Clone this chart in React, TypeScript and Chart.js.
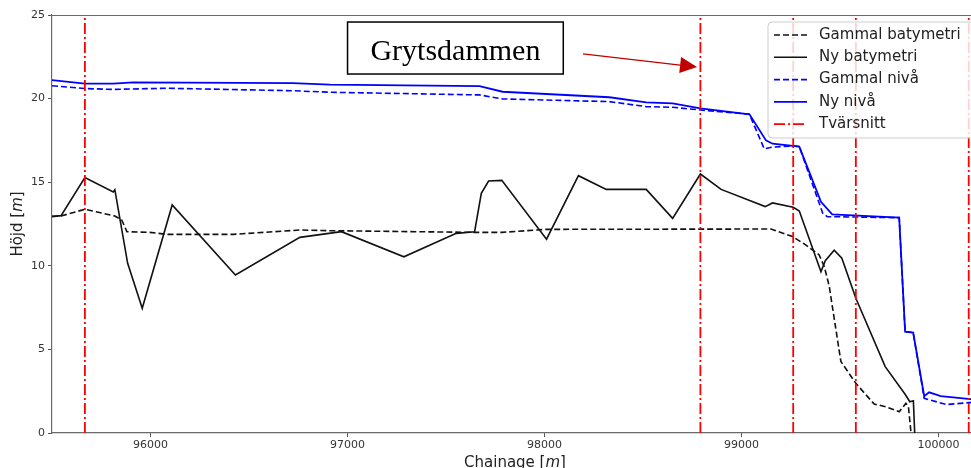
import React, { useEffect, useRef } from 'react';
import { Chart, registerables } from 'chart.js';

Chart.register(...registerables);

// ---------- data ----------
const xTicks = [96000, 97000, 98000, 99000, 100000];
const yTicks = [0, 5, 10, 15, 20, 25];
const xMin = 95500;
const xMax = 100200;
const yMin = 0;
const yMax = 25;

const gammalBatX = [95500, 95546, 95667, 95819, 95854, 95880, 95997, 96082, 96419, 96758, 96910, 97645, 97783, 98008, 99149, 99259, 99327, 99394, 99420, 99445, 99504, 99580, 99673, 99733, 99800, 99834, 99847, 99885];
const gammalBatY = [12.96, 12.98, 13.38, 12.98, 12.74, 12.04, 12.0, 11.88, 11.88, 12.14, 12.1, 12.0, 12.0, 12.18, 12.2, 11.75, 11.24, 10.65, 9.95, 8.77, 4.28, 2.97, 1.73, 1.57, 1.27, 1.77, 1.57, -3];

const nyBatX = [95500, 95546, 95667, 95811, 95819, 95884, 95958, 96110, 96431, 96758, 96969, 97286, 97552, 97645, 97679, 97716, 97783, 98010, 98172, 98313, 98516, 98650, 98791, 98896, 99120, 99157, 99262, 99293, 99403, 99425, 99470, 99509, 99580, 99729, 99830, 99854, 99872, 99889];
const nyBatY = [12.94, 13.0, 15.28, 14.42, 14.55, 10.15, 7.46, 13.64, 9.45, 11.7, 12.04, 10.54, 11.94, 12.04, 14.33, 15.07, 15.11, 11.59, 15.39, 14.57, 14.57, 12.84, 15.49, 14.57, 13.54, 13.76, 13.5, 13.28, 9.65, 10.3, 10.93, 10.45, 8.06, 3.97, 2.32, 1.87, 1.93, -3];

const gammalNivaX = [95500, 95667, 95811, 96082, 96722, 96910, 97670, 97787, 98329, 98516, 98650, 98791, 99040, 99115, 99157, 99262, 99293, 99412, 99435, 99800, 99830, 99871, 99927, 100040, 100200];
const gammalNivaY = [20.77, 20.6, 20.55, 20.62, 20.47, 20.38, 20.22, 19.98, 19.82, 19.52, 19.48, 19.32, 19.06, 16.99, 17.1, 17.17, 17.13, 13.14, 12.94, 12.88, 6.06, 6.0, 2.07, 1.7, 1.86];

const nyNivaX = [95500, 95667, 95811, 95911, 96722, 96910, 97670, 97787, 98329, 98516, 98650, 98791, 99040, 99124, 99157, 99293, 99403, 99460, 99800, 99830, 99871, 99927, 99952, 100011, 100200];
const nyNivaY = [21.11, 20.9, 20.9, 20.97, 20.93, 20.83, 20.75, 20.41, 20.08, 19.78, 19.72, 19.42, 19.06, 17.5, 17.3, 17.13, 13.83, 13.08, 12.88, 6.06, 6.0, 2.2, 2.43, 2.21, 1.98];

const tvarsnittX = [95667, 98791, 99262, 99580, 100153];

const legendLabels = ['Gammal batymetri', 'Ny batymetri', 'Gammal nivå', 'Ny nivå', 'Tvärsnitt'];
const annotationText = 'Grytsdammen';

// ---------- styles ----------
const FONT = '"DejaVu Sans", sans-serif';
const BLUE = '#0000ff';
const BLACK = '#111111';
const RED = '#ff0000';
const DASH = [6, 3];
const DASHDOT = [11, 3, 2, 3];

const styles = [
  { color: BLACK, dash: DASH, width: 1.6 },
  { color: BLACK, dash: [] as number[], width: 1.6 },
  { color: BLUE, dash: DASH, width: 1.6 },
  { color: BLUE, dash: [] as number[], width: 1.8 },
  { color: RED, dash: DASHDOT, width: 1.8 },
];

const pts = (xs: number[], ys: number[]) => xs.map((x, i) => ({ x, y: ys[i] }));

const decorPlugin = {
  id: 'decor',
  afterDraw(chart: any) {
    const { ctx, chartArea } = chart;
    const xs = chart.scales.x;
    const ys = chart.scales.y;
    const { left, right, top, bottom } = chartArea;
    ctx.save();

    // top & right spines
    ctx.strokeStyle = '#6a6a6a';
    ctx.lineWidth = 1.2;
    ctx.setLineDash([]);
    ctx.beginPath();
    ctx.moveTo(left, top + 0.5);
    ctx.lineTo(right, top + 0.5);
    ctx.lineTo(right, bottom);
    ctx.stroke();

    // axis titles with italic m
    const drawMixed = (parts: [string, boolean][], cx: number, cy: number, size: number) => {
      const widths = parts.map(([t, it]) => {
        ctx.font = `${it ? 'italic ' : ''}${size}px ${FONT}`;
        return ctx.measureText(t).width;
      });
      const total = widths.reduce((a, b) => a + b, 0);
      let x = cx - total / 2;
      ctx.textBaseline = 'middle';
      ctx.textAlign = 'left';
      ctx.fillStyle = '#222';
      parts.forEach(([t, it], i) => {
        ctx.font = `${it ? 'italic ' : ''}${size}px ${FONT}`;
        ctx.fillText(t, x, cy);
        x += widths[i];
      });
    };
    drawMixed([['Chainage [', false], ['m', true], [']', false]], (left + right) / 2, bottom + 30, 15);
    ctx.save();
    ctx.translate(18, (top + bottom) / 2);
    ctx.rotate(-Math.PI / 2);
    drawMixed([['Höjd [', false], ['m', true], [']', false]], 0, 0, 15);
    ctx.restore();

    // annotation box
    const bx1 = xs.getPixelForValue(97000);
    const bx2 = xs.getPixelForValue(98095);
    const by1 = ys.getPixelForValue(24.58);
    const by2 = ys.getPixelForValue(21.47);
    ctx.fillStyle = '#ffffff';
    ctx.fillRect(bx1, by1, bx2 - bx1, by2 - by1);
    ctx.strokeStyle = '#000';
    ctx.lineWidth = 1.5;
    ctx.strokeRect(bx1, by1, bx2 - bx1, by2 - by1);
    ctx.fillStyle = '#000';
    ctx.font = `30px "Liberation Serif", "DejaVu Serif", serif`;
    ctx.textAlign = 'center';
    ctx.textBaseline = 'alphabetic';
    ctx.fillText(annotationText, (bx1 + bx2) / 2, by1 + 38);

    // arrow
    const ax1 = xs.getPixelForValue(98195);
    const ay1 = ys.getPixelForValue(22.67);
    const ax2 = xs.getPixelForValue(98774);
    const ay2 = ys.getPixelForValue(21.89);
    const ang = Math.atan2(ay2 - ay1, ax2 - ax1);
    const hl = 17;
    const hw = 8;
    const bxp = ax2 - hl * Math.cos(ang);
    const byp = ay2 - hl * Math.sin(ang);
    ctx.strokeStyle = '#c00000';
    ctx.lineWidth = 1.3;
    ctx.beginPath();
    ctx.moveTo(ax1, ay1);
    ctx.lineTo(bxp, byp);
    ctx.stroke();
    ctx.fillStyle = '#c00000';
    ctx.beginPath();
    ctx.moveTo(ax2, ay2);
    ctx.lineTo(bxp + hw * Math.sin(ang), byp - hw * Math.cos(ang));
    ctx.lineTo(bxp - hw * Math.sin(ang), byp + hw * Math.cos(ang));
    ctx.closePath();
    ctx.fill();

    // legend
    const lx = right - 210;
    const ly = top + 7;
    const lw = 206;
    const lh = 116;
    const r = 4;
    ctx.beginPath();
    ctx.moveTo(lx + r, ly);
    ctx.lineTo(lx + lw - r, ly);
    ctx.quadraticCurveTo(lx + lw, ly, lx + lw, ly + r);
    ctx.lineTo(lx + lw, ly + lh - r);
    ctx.quadraticCurveTo(lx + lw, ly + lh, lx + lw - r, ly + lh);
    ctx.lineTo(lx + r, ly + lh);
    ctx.quadraticCurveTo(lx, ly + lh, lx, ly + lh - r);
    ctx.lineTo(lx, ly + r);
    ctx.quadraticCurveTo(lx, ly, lx + r, ly);
    ctx.closePath();
    ctx.fillStyle = 'rgba(255,255,255,0.82)';
    ctx.fill();
    ctx.strokeStyle = 'rgba(200,200,200,0.9)';
    ctx.lineWidth = 1;
    ctx.stroke();

    legendLabels.forEach((label, i) => {
      const yy = ly + 13 + i * 22.3;
      const st = styles[i];
      ctx.strokeStyle = st.color;
      ctx.lineWidth = st.width;
      ctx.setLineDash(st.dash);
      ctx.beginPath();
      ctx.moveTo(lx + 6, yy);
      ctx.lineTo(lx + 39, yy);
      ctx.stroke();
      ctx.setLineDash([]);
      ctx.fillStyle = '#222';
      ctx.font = `15px ${FONT}`;
      ctx.textAlign = 'left';
      ctx.textBaseline = 'middle';
      ctx.fillText(label, lx + 51, yy);
    });

    ctx.restore();
  },
};

export default function App() {
  const ref = useRef<HTMLCanvasElement | null>(null);

  useEffect(() => {
    if (!ref.current) return;
    const tvPts: any[] = [];
    tvarsnittX.forEach((x) => {
      tvPts.push({ x, y: yMin }, { x, y: yMax }, { x, y: null });
    });

    const mk = (label: string, data: any[], i: number) => ({
      label,
      data,
      borderColor: styles[i].color,
      borderWidth: styles[i].width,
      borderDash: styles[i].dash,
      pointRadius: 0,
      fill: false,
      tension: 0,
      spanGaps: false,
    });

    const chart = new Chart(ref.current, {
      type: 'line',
      data: {
        datasets: [
          mk(legendLabels[4], tvPts, 4),
          mk(legendLabels[3], pts(nyNivaX, nyNivaY), 3),
          mk(legendLabels[2], pts(gammalNivaX, gammalNivaY), 2),
          mk(legendLabels[1], pts(nyBatX, nyBatY), 1),
          mk(legendLabels[0], pts(gammalBatX, gammalBatY), 0),
        ],
      },
      options: {
        responsive: false,
        animation: false,
        devicePixelRatio: 1,
        layout: { padding: { left: 0, top: 15, right: 2, bottom: 0 } },
        plugins: { legend: { display: false }, tooltip: { enabled: false } },
        scales: {
          x: {
            type: 'linear',
            min: xMin,
            max: xMax,
            afterBuildTicks: (s: any) => {
              s.ticks = xTicks.map((v) => ({ value: v }));
            },
            afterFit: (s: any) => {
              s.height = 35;
            },
            grid: { drawOnChartArea: false, drawTicks: true, tickLength: 4, color: '#555' },
            border: { display: true, color: '#6a6a6a', width: 1.2 },
            ticks: {
              font: { family: FONT, size: 11 },
              color: '#333',
              padding: 2,
              maxRotation: 0,
              callback: (v: any) => String(v),
            },
          },
          y: {
            type: 'linear',
            min: yMin,
            max: yMax,
            afterBuildTicks: (s: any) => {
              s.ticks = yTicks.map((v) => ({ value: v }));
            },
            afterFit: (s: any) => {
              s.width = 52;
            },
            grid: { drawOnChartArea: false, drawTicks: true, tickLength: 4, color: '#555' },
            border: { display: true, color: '#6a6a6a', width: 1.2 },
            ticks: {
              font: { family: FONT, size: 11 },
              color: '#333',
              padding: 3,
              callback: (v: any) => String(v),
            },
          },
        },
      },
      plugins: [decorPlugin],
    } as any);

    return () => chart.destroy();
  }, []);

  return (
    <div
      style={{
        position: 'fixed',
        left: 0,
        top: 0,
        width: 971,
        height: 468,
        overflow: 'hidden',
        background: '#fff',
      }}
    >
      <canvas ref={ref} width={980} height={468} style={{ display: 'block' }} />
    </div>
  );
}
